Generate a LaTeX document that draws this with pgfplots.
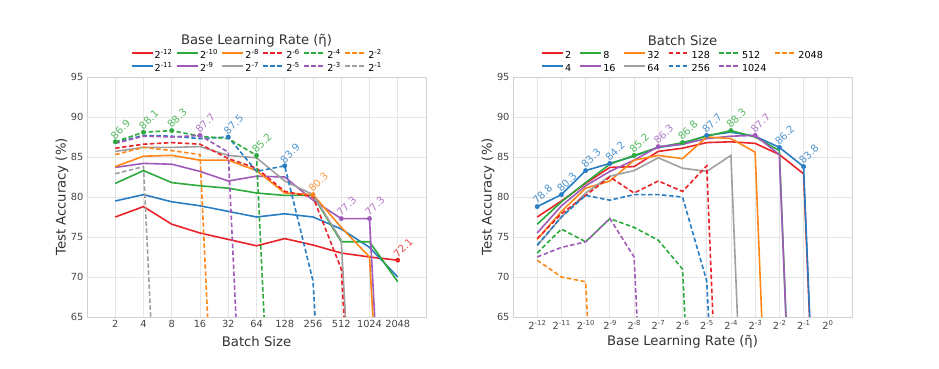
\documentclass[border=0pt]{standalone}
\usepackage{pgfplots}
\pgfplotsset{compat=1.18}
\usepackage{pgfplotstable}
\usepackage{fontspec}
\setmainfont{DejaVu Sans}
\definecolor{cR}{RGB}{235,35,40}
\definecolor{cB}{RGB}{40,125,195}
\definecolor{cG}{RGB}{44,170,60}
\definecolor{cP}{RGB}{160,90,185}
\definecolor{cO}{RGB}{255,135,25}
\definecolor{cK}{RGB}{160,160,160}
\definecolor{gridc}{RGB}{230,230,230}
\definecolor{framec}{RGB}{210,210,210}
\definecolor{tickc}{RGB}{70,70,70}
\definecolor{labc}{RGB}{50,50,50}
\newcommand\sups[1]{\raisebox{0.42em}{\fontsize{6.9}{7}\selectfont #1}}
\newcommand\tickfont{\fontsize{9.8}{11}\selectfont}
\newcommand\labfont{\fontsize{13.2}{15}\selectfont}
\newcommand\legfont{\fontsize{9.6}{11}\selectfont}
\newcommand\annfont{\fontsize{10.2}{11}\selectfont}

% rows: batch size (x = log2 batch), columns: learning rate 2^-12 ... 2^-1
\pgfplotstableread{
x  m12  m11  m10  m9   m8   m7   m6   m5   m4   m3   m2   m1
1  77.5 79.5 81.7 83.7 83.8 85.7 86.1 86.8 86.9 86.7 85.3 82.9
2  78.8 80.3 83.3 84.2 85.1 86.2 86.6 87.7 88.1 87.6 86.2 83.8
3  76.6 79.4 81.8 84.1 85.2 86.2 86.8 87.6 88.3 87.5 85.8 10
4  75.5 78.9 81.4 83.2 84.6 86.3 86.6 87.3 87.6 87.7 85.3 10
5  74.7 78.2 81.1 82.0 84.6 85.2 84.8 87.5 87.3 85.6 10   10
6  73.9 77.5 80.5 82.6 83.3 84.9 83.6 83.2 85.2 10   10   10
7  74.8 77.9 80.2 82.5 80.5 82.0 80.7 83.9 10   10   10   10
8  74.0 77.5 80.2 79.6 80.3 80.3 80.0 69.5 10   10   10   10
9  73.0 76.0 74.4 77.3 76.2 74.6 71.0 10   10   10   10   10
10 72.5 73.7 74.4 77.3 72.5 10   10   10   10   10   10   10
11 72.1 70.0 69.4 10   10   10   10   10   10   10   10   10
}\lefttab

% rows: learning rate (x = log2 lr), columns: batch size 2 ... 2048
\pgfplotstableread{
x   b2   b4   b8   b16  b32  b64  b128 b256 b512 b1024 b2048
-12 77.5 78.8 76.6 75.5 74.7 73.9 74.8 74.0 73.0 72.5 72.1
-11 79.5 80.3 79.4 78.9 78.2 77.5 77.9 77.5 76.0 73.7 70.0
-10 81.7 83.3 81.8 81.4 81.1 80.5 80.2 80.2 74.4 74.4 69.4
-9  83.7 84.2 84.1 83.2 82.0 82.6 82.5 79.6 77.3 77.3 10
-8  83.8 85.1 85.2 84.6 84.6 83.3 80.5 80.3 76.2 72.5 10
-7  85.7 86.2 86.2 86.3 85.2 84.9 82.0 80.3 74.6 10   10
-6  86.1 86.6 86.8 86.6 84.8 83.6 80.7 80.0 71.0 10   10
-5  86.8 87.7 87.6 87.3 87.5 83.2 83.9 69.5 10   10   10
-4  86.9 88.1 88.3 87.6 87.3 85.2 10   10   10   10   10
-3  86.7 87.6 87.5 87.7 85.6 10   10   10   10   10   10
-2  85.3 86.2 85.8 85.3 10   10   10   10   10   10   10
-1  82.9 83.8 10   10   10   10   10   10   10   10   10
0   10   10   10   10   10   10   10   10   10   10   10
}\righttab

\pgfplotsset{
  S/.style={line width=1.6pt, solid, mark=none},
  D/.style={line width=1.6pt, dash pattern=on 4.5pt off 2.5pt, mark=none},
  ann/.style={only marks, mark=*, mark size=2.2pt, #1, nodes near coords,
    point meta=explicit symbolic,
    nodes near coords style={rotate=45, anchor=south west, font=\annfont,
      text=#1, text opacity=0.8, inner sep=1pt}},
  common/.style={
    width=339pt, height=240pt, scale only axis, clip mode=individual,
    ymin=65, ymax=95, ytick={65,70,75,80,85,90,95},
    grid=major, major grid style={color=gridc, line width=0.8pt},
    axis line style={color=framec, line width=0.8pt},
    major tick length=0pt,
    tick label style={font=\tickfont, color=tickc},
    /pgf/number format/assume math mode=true,
    label style={font=\labfont, color=labc},
    ylabel={Test Accuracy (\%)},
    ylabel style={at={(axis description cs:-0.0737,0.5)}, anchor=center},
    xlabel style={at={(axis description cs:0.5,-0.104)}, anchor=center},
    legend style={draw=none, fill=none, at={(0.5,1.0)}, anchor=south,
      font=\legfont, nodes={inner sep=1pt, text height=7pt, text depth=2pt}, row sep=2pt,
      /tikz/every even column/.append style={column sep=#1}},
    legend columns=6, legend cell align=left,
    legend image code/.code={\draw[##1, line width=2pt] (0pt,3pt) -- (21pt,3pt);},
  },
}

\begin{document}
\begin{tikzpicture}
\path (0pt,0pt) rectangle (939pt,368pt);
% ---------------- left panel ----------------
\begin{axis}[common=3pt, at={(87pt,51pt)}, anchor=south west,
  xmin=0, xmax=12, xtick={1,...,11},
  xticklabels={2,4,8,16,32,64,128,256,512,1024,2048},
  xlabel={Batch Size}]
\addlegendimage{S,cR}\addlegendentry{2\sups{-12}}
\addlegendimage{S,cG}\addlegendentry{2\sups{-10}}
\addlegendimage{S,cO}\addlegendentry{2\sups{-8}}
\addlegendimage{D,cR}\addlegendentry{2\sups{-6}}
\addlegendimage{D,cG}\addlegendentry{2\sups{-4}}
\addlegendimage{D,cO}\addlegendentry{2\sups{-2}}
\addlegendimage{S,cB}\addlegendentry{2\sups{-11}}
\addlegendimage{S,cP}\addlegendentry{2\sups{-9}}
\addlegendimage{S,cK}\addlegendentry{2\sups{-7}}
\addlegendimage{D,cB}\addlegendentry{2\sups{-5}}
\addlegendimage{D,cP}\addlegendentry{2\sups{-3}}
\addlegendimage{D,cK}\addlegendentry{2\sups{-1}}
\addplot[S,cR,forget plot] table[x=x,y=m12]{\lefttab};
\addplot[S,cB,forget plot] table[x=x,y=m11]{\lefttab};
\addplot[S,cG,forget plot] table[x=x,y=m10]{\lefttab};
\addplot[S,cP,forget plot] table[x=x,y=m9]{\lefttab};
\addplot[S,cO,forget plot] table[x=x,y=m8]{\lefttab};
\addplot[S,cK,forget plot] table[x=x,y=m7]{\lefttab};
\addplot[D,cR,forget plot] table[x=x,y=m6]{\lefttab};
\addplot[D,cB,forget plot] table[x=x,y=m5]{\lefttab};
\addplot[D,cG,forget plot] table[x=x,y=m4]{\lefttab};
\addplot[D,cP,forget plot] table[x=x,y=m3]{\lefttab};
\addplot[D,cO,forget plot] table[x=x,y=m2]{\lefttab};
\addplot[D,cK,forget plot] table[x=x,y=m1]{\lefttab};
\addplot[ann=cG,forget plot] coordinates {(1,86.9)[86.9] (2,88.1)[88.1] (3,88.3)[88.3] (6,85.2)[85.2]};
\addplot[ann=cP,forget plot] coordinates {(4,87.7)[87.7] (9,77.3)[77.3] (10,77.3)[77.3]};
\addplot[ann=cB,forget plot] coordinates {(5,87.5)[87.5] (7,83.9)[83.9]};
\addplot[ann=cO,forget plot] coordinates {(8,80.3)[80.3]};
\addplot[ann=cR,forget plot] coordinates {(11,72.1)[72.1]};
\node[font=\labfont, text=labc] at (axis description cs:0.5,1.152) {Base Learning Rate (η̃)};
\end{axis}
% ---------------- right panel ----------------
\begin{axis}[common=7pt, at={(513pt,51pt)}, anchor=south west,
  xmin=-13, xmax=1, xtick={-12,...,0},
  xticklabels={2\sups{-12},2\sups{-11},2\sups{-10},2\sups{-9},2\sups{-8},2\sups{-7},2\sups{-6},2\sups{-5},2\sups{-4},2\sups{-3},2\sups{-2},2\sups{-1},2\sups{0}},
  xlabel={Base Learning Rate (η̃)}]
\addlegendimage{S,cR}\addlegendentry{2}
\addlegendimage{S,cG}\addlegendentry{8}
\addlegendimage{S,cO}\addlegendentry{32}
\addlegendimage{D,cR}\addlegendentry{128}
\addlegendimage{D,cG}\addlegendentry{512}
\addlegendimage{D,cO}\addlegendentry{2048}
\addlegendimage{S,cB}\addlegendentry{4}
\addlegendimage{S,cP}\addlegendentry{16}
\addlegendimage{S,cK}\addlegendentry{64}
\addlegendimage{D,cB}\addlegendentry{256}
\addlegendimage{D,cP}\addlegendentry{1024}
\addplot[S,cR,forget plot] table[x=x,y=b2]{\righttab};
\addplot[S,cB,forget plot] table[x=x,y=b4]{\righttab};
\addplot[S,cG,forget plot] table[x=x,y=b8]{\righttab};
\addplot[S,cP,forget plot] table[x=x,y=b16]{\righttab};
\addplot[S,cO,forget plot] table[x=x,y=b32]{\righttab};
\addplot[S,cK,forget plot] table[x=x,y=b64]{\righttab};
\addplot[D,cR,forget plot] table[x=x,y=b128]{\righttab};
\addplot[D,cB,forget plot] table[x=x,y=b256]{\righttab};
\addplot[D,cG,forget plot] table[x=x,y=b512]{\righttab};
\addplot[D,cP,forget plot] table[x=x,y=b1024]{\righttab};
\addplot[D,cO,forget plot] table[x=x,y=b2048]{\righttab};
\addplot[ann=cB,forget plot] coordinates {(-12,78.8)[78.8] (-11,80.3)[80.3] (-10,83.3)[83.3] (-9,84.2)[84.2] (-5,87.7)[87.7] (-2,86.2)[86.2] (-1,83.8)[83.8]};
\addplot[ann=cG,forget plot] coordinates {(-8,85.2)[85.2] (-6,86.8)[86.8] (-4,88.3)[88.3]};
\addplot[ann=cP,forget plot] coordinates {(-7,86.3)[86.3] (-3,87.7)[87.7]};
\node[font=\labfont, text=labc] at (axis description cs:0.5,1.152) {Batch Size};
\end{axis}
\end{tikzpicture}
\end{document}
